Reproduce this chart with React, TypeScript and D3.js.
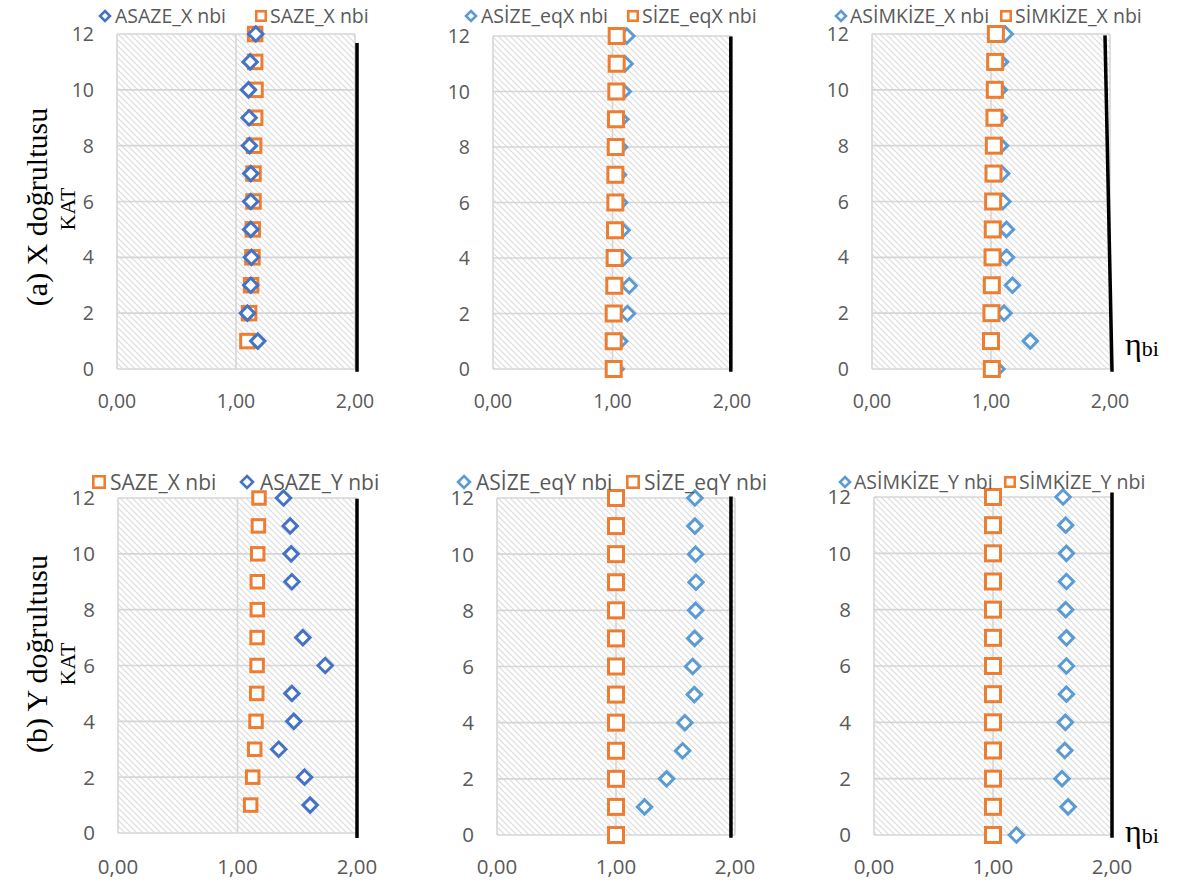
import React from 'react';
import * as d3 from 'd3';

// ---------- data ----------
const FLOORS = [0, 1, 2, 3, 4, 5, 6, 7, 8, 9, 10, 11, 12];
const X_TICKS = [0, 1, 2];
const Y_TICKS = [0, 2, 4, 6, 8, 10, 12];
const fmt = (v: number) => v.toFixed(2).replace('.', ',');

// values indexed by floor 0..12 (null = no point)
const ASAZE_X = [null, 1.183, 1.096, 1.124, 1.13, 1.124, 1.124, 1.124, 1.113, 1.11, 1.105, 1.119, 1.166];
const SAZE_X_A = [null, 1.096, 1.11, 1.127, 1.138, 1.141, 1.147, 1.147, 1.152, 1.161, 1.164, 1.161, 1.161];
const ASIZE_eqX = [1.03, 1.06, 1.125, 1.14, 1.09, 1.08, 1.06, 1.05, 1.06, 1.07, 1.09, 1.105, 1.12];
const SIZE_eqX = [1.01, 1.01, 1.01, 1.015, 1.018, 1.021, 1.024, 1.024, 1.027, 1.029, 1.032, 1.035, 1.035];
const ASIMKIZE_X = [1.05, 1.33, 1.11, 1.18, 1.13, 1.13, 1.1, 1.09, 1.08, 1.07, 1.07, 1.08, 1.12];
const SIMKIZE_X = [1.007, 1.0, 1.004, 1.007, 1.013, 1.015, 1.018, 1.021, 1.024, 1.029, 1.032, 1.035, 1.041];

const SAZE_X_B = [null, 1.11, 1.127, 1.144, 1.155, 1.161, 1.164, 1.164, 1.166, 1.166, 1.169, 1.175, 1.18];
const ASAZE_Y = [null, 1.608, 1.561, 1.345, 1.471, 1.455, 1.734, 1.547, null, 1.455, 1.449, 1.441, 1.385];
const ASIZE_eqY = [null, 1.24, 1.425, 1.56, 1.579, 1.658, 1.644, 1.661, 1.669, 1.672, 1.669, 1.663, 1.663];
const SIZE_eqY = [1.0, 1.0, 1.0, 1.0, 1.0, 1.0, 1.0, 1.0, 1.0, 1.0, 1.0, 1.0, 1.0];
const ASIMKIZE_Y = [1.197, 1.631, 1.58, 1.603, 1.608, 1.617, 1.617, 1.617, 1.611, 1.617, 1.617, 1.611, 1.589];
const SIMKIZE_Y = [1.0, 1.0, 1.0, 1.0, 1.0, 1.0, 1.0, 1.0, 1.0, 1.0, 1.0, 1.0, 1.0];

// limit line ends [x, y] in data units
const LIMIT_A1 = [[2.017, 11.68], [2.017, -0.1]];
const LIMIT_A2 = [[1.99, 11.98], [1.99, -0.1]];
const LIMIT_A3 = [[1.958, 11.95], [2.017, -0.1]];
const LIMIT_B1 = [[2.0, 11.97], [2.0, -0.18]];
const LIMIT_B2 = [[1.966, 12.05], [1.966, -0.1]];
const LIMIT_B3 = [[2.0, 12.16], [2.0, -0.1]];

// ---------- styling ----------
const DARK_BLUE = '#4472C4';
const LIGHT_BLUE = '#5B9BD5';
const ORANGE = '#ED7D31';
const TXT = '#595959';
const SANS = "'Open Sans', 'Noto Sans', sans-serif";
const SERIF = "'Liberation Serif', 'DejaVu Serif', serif";

type Series = { name: string; shape: 'diamond' | 'square'; color: string; values: (number | null)[]; lx: number; tx: number };
type PanelCfg = {
  l: number; r: number; t: number; b: number;
  legendY: number; legendFont: number; legendMark: number;
  tickFont: number; xLabelY: number;
  series: Series[]; drawOrder: number[];
  limit: number[][];
  sq: number; dia: number;
};

const PANELS: PanelCfg[] = [
  {
    l: 117, r: 355, t: 34, b: 369, legendY: 16, legendFont: 19.5, legendMark: 1, tickFont: 19.5, xLabelY: 408,
    series: [
      { name: 'ASAZE_X nbi', shape: 'diamond', color: DARK_BLUE, values: ASAZE_X, lx: 105, tx: 115 },
      { name: 'SAZE_X nbi', shape: 'square', color: ORANGE, values: SAZE_X_A, lx: 261, tx: 270 },
    ],
    drawOrder: [1, 0], limit: LIMIT_A1, sq: 13.5, dia: 7.2,
  },
  {
    l: 493, r: 732, t: 36, b: 369, legendY: 16, legendFont: 19.5, legendMark: 1, tickFont: 19.5, xLabelY: 408,
    series: [
      { name: 'ASİZE_eqX nbi', shape: 'diamond', color: LIGHT_BLUE, values: ASIZE_eqX, lx: 471, tx: 481 },
      { name: 'SİZE_eqX nbi', shape: 'square', color: ORANGE, values: SIZE_eqX, lx: 633, tx: 642 },
    ],
    drawOrder: [0, 1], limit: LIMIT_A2, sq: 15, dia: 7.2,
  },
  {
    l: 872, r: 1110, t: 34, b: 369, legendY: 16, legendFont: 19.5, legendMark: 1, tickFont: 19.5, xLabelY: 408,
    series: [
      { name: 'ASİMKİZE_X nbi', shape: 'diamond', color: LIGHT_BLUE, values: ASIMKIZE_X, lx: 841, tx: 850 },
      { name: 'SİMKİZE_X nbi', shape: 'square', color: ORANGE, values: SIMKIZE_X, lx: 1006, tx: 1015 },
    ],
    drawOrder: [0, 1], limit: LIMIT_A3, sq: 15, dia: 7.2,
  },
  {
    l: 118, r: 357, t: 498, b: 833, legendY: 482, legendFont: 21, legendMark: 1.2, tickFont: 20.5, xLabelY: 874,
    series: [
      { name: 'SAZE_X nbi', shape: 'square', color: ORANGE, values: SAZE_X_B, lx: 99, tx: 110 },
      { name: 'ASAZE_Y nbi', shape: 'diamond', color: DARK_BLUE, values: ASAZE_Y, lx: 247, tx: 260 },
    ],
    drawOrder: [0, 1], limit: LIMIT_B1, sq: 12.5, dia: 7.2,
  },
  {
    l: 497, r: 735, t: 498, b: 835, legendY: 482, legendFont: 21, legendMark: 1.2, tickFont: 20.5, xLabelY: 874,
    series: [
      { name: 'ASİZE_eqY nbi', shape: 'diamond', color: LIGHT_BLUE, values: ASIZE_eqY, lx: 464, tx: 476 },
      { name: 'SİZE_eqY nbi', shape: 'square', color: ORANGE, values: SIZE_eqY, lx: 633, tx: 644 },
    ],
    drawOrder: [0, 1], limit: LIMIT_B2, sq: 15, dia: 7.2,
  },
  {
    l: 874, r: 1112, t: 497, b: 835, legendY: 482, legendFont: 19.5, legendMark: 1.0, tickFont: 20.5, xLabelY: 874,
    series: [
      { name: 'ASİMKİZE_Y nbi', shape: 'diamond', color: LIGHT_BLUE, values: ASIMKIZE_Y, lx: 845, tx: 854 },
      { name: 'SİMKİZE_Y nbi', shape: 'square', color: ORANGE, values: SIMKIZE_Y, lx: 1010, tx: 1019 },
    ],
    drawOrder: [0, 1], limit: LIMIT_B3, sq: 15, dia: 7.2,
  },
];

const diamondPath = (cx: number, cy: number, r: number) =>
  `M${cx},${cy - r}L${cx + r},${cy}L${cx},${cy + r}L${cx - r},${cy}Z`;

function Marker({ shape, color, cx, cy, sq, dia, sw }: any) {
  if (shape === 'square') {
    return <rect x={cx - sq / 2} y={cy - sq / 2} width={sq} height={sq} fill="white" stroke={color} strokeWidth={sw} />;
  }
  return <path d={diamondPath(cx, cy, dia)} fill="white" stroke={color} strokeWidth={sw} />;
}

function Panel({ cfg }: { cfg: PanelCfg }) {
  const x = d3.scaleLinear().domain([0, 2]).range([cfg.l, cfg.r]);
  const y = d3.scaleLinear().domain([0, 12]).range([cfg.b, cfg.t]);
  const lineGen = d3.line<number[]>().x((d) => x(d[0])).y((d) => y(d[1]));
  return (
    <g>
      <rect x={x(0)} y={y(12)} width={x(2) - x(0)} height={y(0) - y(12)} fill="url(#hatch)" />
      {Y_TICKS.map((t) => (
        <line key={'h' + t} x1={x(0)} x2={x(2)} y1={y(t)} y2={y(t)} stroke="#d6d6d6" strokeWidth={1.6} />
      ))}
      {X_TICKS.map((t) => (
        <line key={'v' + t} x1={x(t)} x2={x(t)} y1={y(0)} y2={y(12)} stroke="#d6d6d6" strokeWidth={1.6} />
      ))}
      {Y_TICKS.map((t) => (
        <text key={'yt' + t} x={x(0) - 23} y={y(t)} dy="0.36em" textAnchor="end" fontFamily={SANS} fontSize={cfg.tickFont} fill={TXT}>
          {t}
        </text>
      ))}
      {X_TICKS.map((t) => (
        <text key={'xt' + t} x={x(t)} y={cfg.xLabelY} textAnchor="middle" fontFamily={SANS} fontSize={cfg.tickFont} fill={TXT}>
          {fmt(t)}
        </text>
      ))}
      <path d={lineGen(cfg.limit) || ''} stroke="black" strokeWidth={3.5} fill="none" />
      {cfg.drawOrder.map((si) => {
        const s = cfg.series[si];
        return (
          <g key={'s' + si}>
            {FLOORS.map((f) => {
              const v = s.values[f];
              if (v == null) return null;
              return <Marker key={f} shape={s.shape} color={s.color} cx={x(v)} cy={y(f)} sq={cfg.sq} dia={cfg.dia} sw={3} />;
            })}
          </g>
        );
      })}
      {cfg.series.map((s, i) => (
        <g key={'lg' + i}>
          <Marker shape={s.shape} color={s.color} cx={s.lx} cy={cfg.legendY}
            sq={s.shape === 'square' ? 9.5 * cfg.legendMark : 0} dia={s.shape === 'diamond' ? 5 * cfg.legendMark : 0} sw={2.6} />
          <text x={s.tx} y={cfg.legendY} dy="0.36em" fontFamily={SANS} fontSize={cfg.legendFont} fill={TXT}>
            {s.name}
          </text>
        </g>
      ))}
    </g>
  );
}

export default function App() {
  return (
    <svg width={1182} height={881} style={{ position: 'absolute', left: 0, top: 0, background: 'white' }}>
      <defs>
        <pattern id="hatch" patternUnits="userSpaceOnUse" width={6} height={6}>
          <rect width={6} height={6} fill="white" />
          <path d="M0,0L6,6M-1,5L1,7M5,-1L7,1" stroke="#dcdcdc" strokeWidth={1.2} />
        </pattern>
      </defs>
      <rect width={1182} height={881} fill="white" />
      {PANELS.map((p, i) => (
        <Panel key={i} cfg={p} />
      ))}
      <text transform="translate(47,207) rotate(-90)" textAnchor="middle" fontFamily={SERIF} fontSize={30} fill="black">
        (a) X doğrultusu
      </text>
      <text transform="translate(75,209) rotate(-90)" textAnchor="middle" fontFamily={SERIF} fontSize={22} fill="black">
        KAT
      </text>
      <text transform="translate(47,654) rotate(-90)" textAnchor="middle" fontFamily={SERIF} fontSize={30} fill="black">
        (b) Y doğrultusu
      </text>
      <text transform="translate(75,664) rotate(-90)" textAnchor="middle" fontFamily={SERIF} fontSize={22} fill="black">
        KAT
      </text>
      <text x={1125} y={355} fontFamily={SERIF} fontSize={32} fill="black">
        η<tspan fontSize={22} dy={1}>bi</tspan>
      </text>
      <text x={1125} y={842} fontFamily={SERIF} fontSize={32} fill="black">
        η<tspan fontSize={22} dy={1}>bi</tspan>
      </text>
    </svg>
  );
}
